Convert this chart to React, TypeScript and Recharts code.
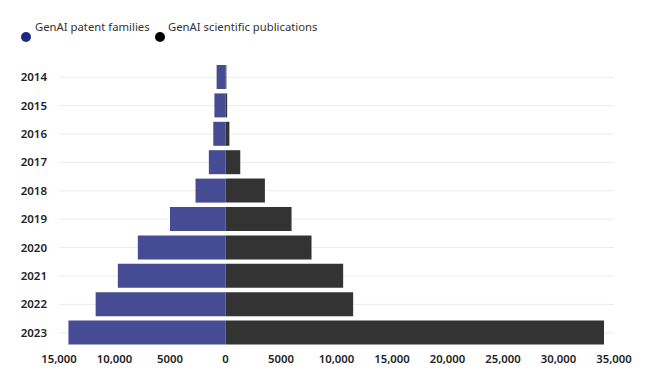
import React from "react";
import { BarChart, Bar, XAxis, YAxis, CartesianGrid } from "recharts";

const years = ["2014", "2015", "2016", "2017", "2018", "2019", "2020", "2021", "2022", "2023"];
const patentFamilies = [800, 1000, 1100, 1500, 2700, 5000, 7900, 9700, 11700, 14150];
const publications = [80, 150, 350, 1330, 3550, 5950, 7750, 10600, 11500, 34100];
const xTicks = [-15000, -10000, -5000, 0, 5000, 10000, 15000, 20000, 25000, 30000, 35000];
const seriesNames = ["GenAI patent families", "GenAI scientific publications"];

const data = years.map((y, i) => ({
  year: y,
  patents: -patentFamilies[i],
  pubs: publications[i],
}));

const FONT = "'Noto Sans', 'Open Sans', sans-serif";

const fmt = (v: number) => {
  const a = Math.abs(v);
  return a >= 10000 ? a.toLocaleString("en-US") : String(a);
};

const rowCenters = ({ offset }: any) => {
  const band = offset.height / years.length;
  return years.map((_, i) => offset.top + band * (i + 0.5));
};

export default function App() {
  return (
    <div style={{ position: "absolute", left: 0, top: 0, width: 648, height: 377, background: "#fff" }}>
      <div style={{ position: "absolute", left: 0, top: 0, width: 648, height: 50, fontFamily: FONT, fontSize: 11.3, color: "#333", zIndex: 2 }}>
        <span style={{ position: "absolute", left: 21, top: 32, width: 10, height: 10, borderRadius: 5, background: "#1b2a80" }} />
        <span style={{ position: "absolute", left: 35, top: 19, whiteSpace: "nowrap" }}>{seriesNames[0]}</span>
        <span style={{ position: "absolute", left: 155, top: 32, width: 10, height: 10, borderRadius: 5, background: "#000" }} />
        <span style={{ position: "absolute", left: 168, top: 19, whiteSpace: "nowrap" }}>{seriesNames[1]}</span>
      </div>
      <BarChart
        width={648}
        height={377}
        data={data}
        layout="vertical"
        stackOffset="sign"
        barSize={24}
        margin={{ top: 63, right: 34, bottom: 10, left: 0 }}
      >
        <CartesianGrid horizontal={true} vertical={false} stroke="#ececec" horizontalCoordinatesGenerator={rowCenters} />
        <XAxis
          type="number"
          domain={[-15000, 35000]}
          ticks={xTicks}
          tickFormatter={fmt}
          axisLine={false}
          tickLine={false}
          height={20}
          interval={0}
          tick={{ fontFamily: FONT, fontSize: 11.3, fill: "#222", fontWeight: 600 }}
        />
        <YAxis
          type="category"
          dataKey="year"
          width={59}
          axisLine={false}
          tickLine={false}
          tickMargin={6}
          tick={{ fontFamily: FONT, fontSize: 11.5, fill: "#222", fontWeight: 600 }}
        />
        <Bar dataKey="patents" stackId="a" name={seriesNames[0]} fill="#454c93" isAnimationActive={false} />
        <Bar dataKey="pubs" stackId="a" name={seriesNames[1]} fill="#333333" isAnimationActive={false} />
      </BarChart>
    </div>
  );
}
